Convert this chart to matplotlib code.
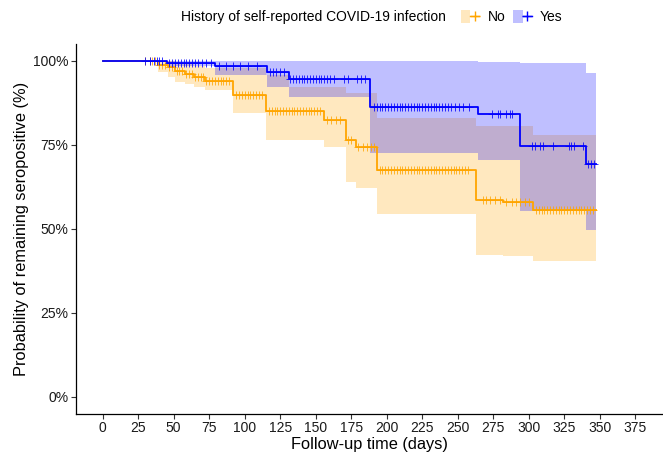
import matplotlib
matplotlib.use("Agg")
import matplotlib.pyplot as plt
import numpy as np
from matplotlib.patches import Patch
from matplotlib.lines import Line2D
from matplotlib.legend_handler import HandlerTuple
from matplotlib.ticker import PercentFormatter

plt.rcParams["font.family"] = ["Liberation Sans", "DejaVu Sans"]

# Kaplan-Meier estimates
no_time = [0, 39, 46, 51, 58, 64, 72, 92, 115, 131, 156, 171, 178, 193, 263, 282, 303, 347]
no_surv = [1.0, 0.988, 0.981, 0.971, 0.961, 0.953, 0.941, 0.899, 0.851, 0.851, 0.824, 0.765, 0.745, 0.676, 0.586, 0.581, 0.558, 0.558]
no_upper = [1.0, 1.0, 1.0, 0.995, 0.99, 0.985, 0.978, 0.978, 0.958, 0.923, 0.923, 0.905, 0.905, 0.829, 0.807, 0.807, 0.780, 0.780]
no_lower = [1.0, 0.968, 0.953, 0.938, 0.933, 0.923, 0.914, 0.844, 0.765, 0.765, 0.745, 0.641, 0.621, 0.546, 0.423, 0.420, 0.406, 0.406]

yes_time = [0, 45, 79, 116, 131, 188, 264, 294, 340, 347]
yes_surv = [1.0, 0.995, 0.986, 0.967, 0.945, 0.862, 0.842, 0.748, 0.692, 0.692]
yes_upper = [1.0, 1.0, 1.0, 1.0, 1.0, 1.0, 0.998, 0.993, 0.963, 0.963]
yes_lower = [1.0, 0.985, 0.958, 0.923, 0.894, 0.725, 0.705, 0.553, 0.497, 0.497]

# censoring times
no_censor = [30, 33, 35, 37, 40, 42, 44, 47, 49, 52, 54, 56, 59, 61, 63, 65, 67, 69, 71,
             73, 75, 77, 79, 81, 83, 85, 87, 89, 94, 96, 98, 100, 102, 104, 106, 108, 110, 112,
             117, 119, 121, 123, 125, 127, 129, 131, 133, 135, 137, 139, 141, 143, 145, 147,
             149, 151, 153, 158, 161, 164, 167, 173, 175, 180, 183, 186, 189, 191,
             195, 197, 199, 201, 203, 205, 207, 209, 211, 213, 215, 217, 219, 221, 223, 225,
             227, 229, 231, 233, 235, 237, 239, 241, 243, 245, 247, 249, 251, 253, 255, 257,
             268, 270, 273, 276, 280, 284, 288, 291, 294, 297, 300,
             305, 307, 309, 311, 313, 315, 317, 319, 321, 323, 325, 327, 329, 331, 333, 335,
             337, 339, 341, 343, 345]
yes_censor = [30, 33, 36, 38, 40, 42, 47, 49, 51, 53, 55, 57, 59, 61, 63, 65, 67, 70, 73, 76,
              82, 87, 92, 97, 102, 109, 118, 120, 122, 125, 128,
              132, 134, 136, 138, 140, 142, 144, 146, 148, 150, 152, 154, 156, 158, 160, 163,
              170, 173, 179, 182, 185,
              191, 193, 195, 197, 199, 201, 203, 205, 207, 209, 211, 213, 215, 217, 219, 221,
              223, 225, 227, 229, 231, 233, 235, 237, 239, 241, 243, 245, 248, 251, 254, 258,
              274, 278, 280, 284, 287, 288, 302, 304, 308, 310, 317, 328, 330, 332, 338,
              342, 344, 346]

groups = ["No", "Yes"]
colors = {"No": "#FFA500", "Yes": "#0000FF"}


def surv_at(times, surv, t):
    idx = np.searchsorted(times, t, side="right") - 1
    return np.array(surv)[idx]


fig = plt.figure(figsize=(6.63, 4.55), dpi=100)
ax = fig.add_axes([76 / 663, 41.2 / 455, (662 - 76) / 663, (413.8 - 44.2) / 455])

data = {
    "No": (no_time, no_surv, no_upper, no_lower, no_censor),
    "Yes": (yes_time, yes_surv, yes_upper, yes_lower, yes_censor),
}

for g in groups:
    t, s, up, lo, cens = data[g]
    ax.fill_between(t, lo, up, step="post", color=colors[g], alpha=0.25, linewidth=0)
for g in groups:
    t, s, up, lo, cens = data[g]
    ax.step(t, s, where="post", color=colors[g], linewidth=1.3)
    ax.plot(cens, surv_at(t, s, cens), linestyle="none", marker="+",
            markersize=6, markeredgewidth=0.7, color=colors[g], alpha=0.8)

ax.set_xlim(-18.75, 393.75)
ax.set_ylim(-0.05, 1.05)
ax.set_xticks(np.arange(0, 376, 25))
ax.set_yticks([0, 0.25, 0.5, 0.75, 1.0])
ax.yaxis.set_major_formatter(PercentFormatter(1.0, decimals=0))
ax.tick_params(labelsize=10, length=3.5, width=0.8, pad=2, color="#333333", labelcolor="#1a1a1a")
for side in ["top", "right"]:
    ax.spines[side].set_visible(False)
for side in ["left", "bottom"]:
    ax.spines[side].set_linewidth(0.9)
ax.set_xlabel("Follow-up time (days)", fontsize=11.8, labelpad=1)
ax.set_ylabel("Probability of remaining seropositive (%)", fontsize=11.8, labelpad=3)

# legend on top
fig.text(446 / 663, 1 - 17 / 455, "History of self-reported COVID-19 infection",
         fontsize=10, ha="right", va="center")
handles = []
for g in groups:
    handles.append((Patch(facecolor=colors[g], alpha=0.25, edgecolor="none"),
                    Line2D([], [], color=colors[g], marker="+", markersize=7, linewidth=1)))
fig.legend(handles, groups, handler_map={tuple: HandlerTuple(ndivide=None)},
           loc="center left", bbox_to_anchor=(461 / 663, 1 - 17 / 455), ncol=2,
           frameon=False, fontsize=10, handlelength=1.3, handleheight=1.1,
           columnspacing=0.6, handletextpad=0.6, borderaxespad=0, borderpad=0)

fig.savefig("out.png", dpi=100)
